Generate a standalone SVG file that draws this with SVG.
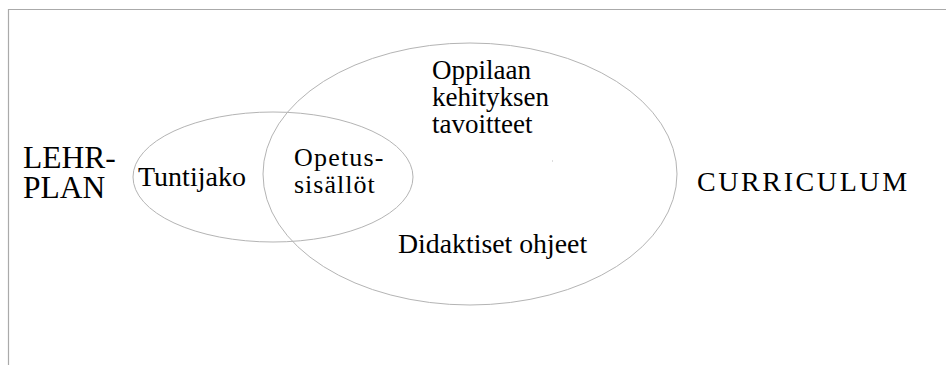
<svg xmlns="http://www.w3.org/2000/svg" width="946" height="365" viewBox="0 0 946 365">
<style>
.frame{fill:none;stroke:#aaaaaa;stroke-width:1.2}
.ell{fill:none;stroke:#b4b4b4;stroke-width:1}
.t{font-family:'Liberation Serif','Times New Roman','DejaVu Serif',serif;fill:#000}
</style>
<rect width="946" height="365" fill="#fff"/>
<path class="frame" d="M8.5 365 V9.5 H946"/>
<g id="connectors"></g>
<g id="curriculum-ellipse"><ellipse class="ell" cx="470" cy="174" rx="207" ry="131"/></g>
<g id="lehrplan-ellipse"><ellipse class="ell" cx="273" cy="177" rx="140" ry="65"/></g>
<g id="lehrplan"><text class="t" x="23" y="168" font-size="31.5">LEHR-</text><text class="t" x="23" y="198" font-size="31.5">PLAN</text></g>
<g id="tuntijako"><text class="t" x="138" y="186" font-size="28">Tuntijako</text></g>
<g id="opetussisallot"><text class="t" x="294" y="166" font-size="26" letter-spacing="1.2">Opetus-</text><text class="t" x="294" y="193" font-size="26" letter-spacing="1">sisällöt</text></g>
<g id="oppilaan"><text class="t" x="432" y="79" font-size="27">Oppilaan</text><text class="t" x="432" y="106" font-size="27">kehityksen</text><text class="t" x="432" y="133" font-size="27">tavoitteet</text></g>
<g id="didaktiset"><text class="t" x="398" y="253" font-size="27.8">Didaktiset ohjeet</text></g>
<g id="curriculum"><text class="t" x="697" y="191" font-size="28" letter-spacing="2.6">CURRICULUM</text></g>
<rect x="552" y="160" width="1" height="2" fill="#dddddd"/>
</svg>
